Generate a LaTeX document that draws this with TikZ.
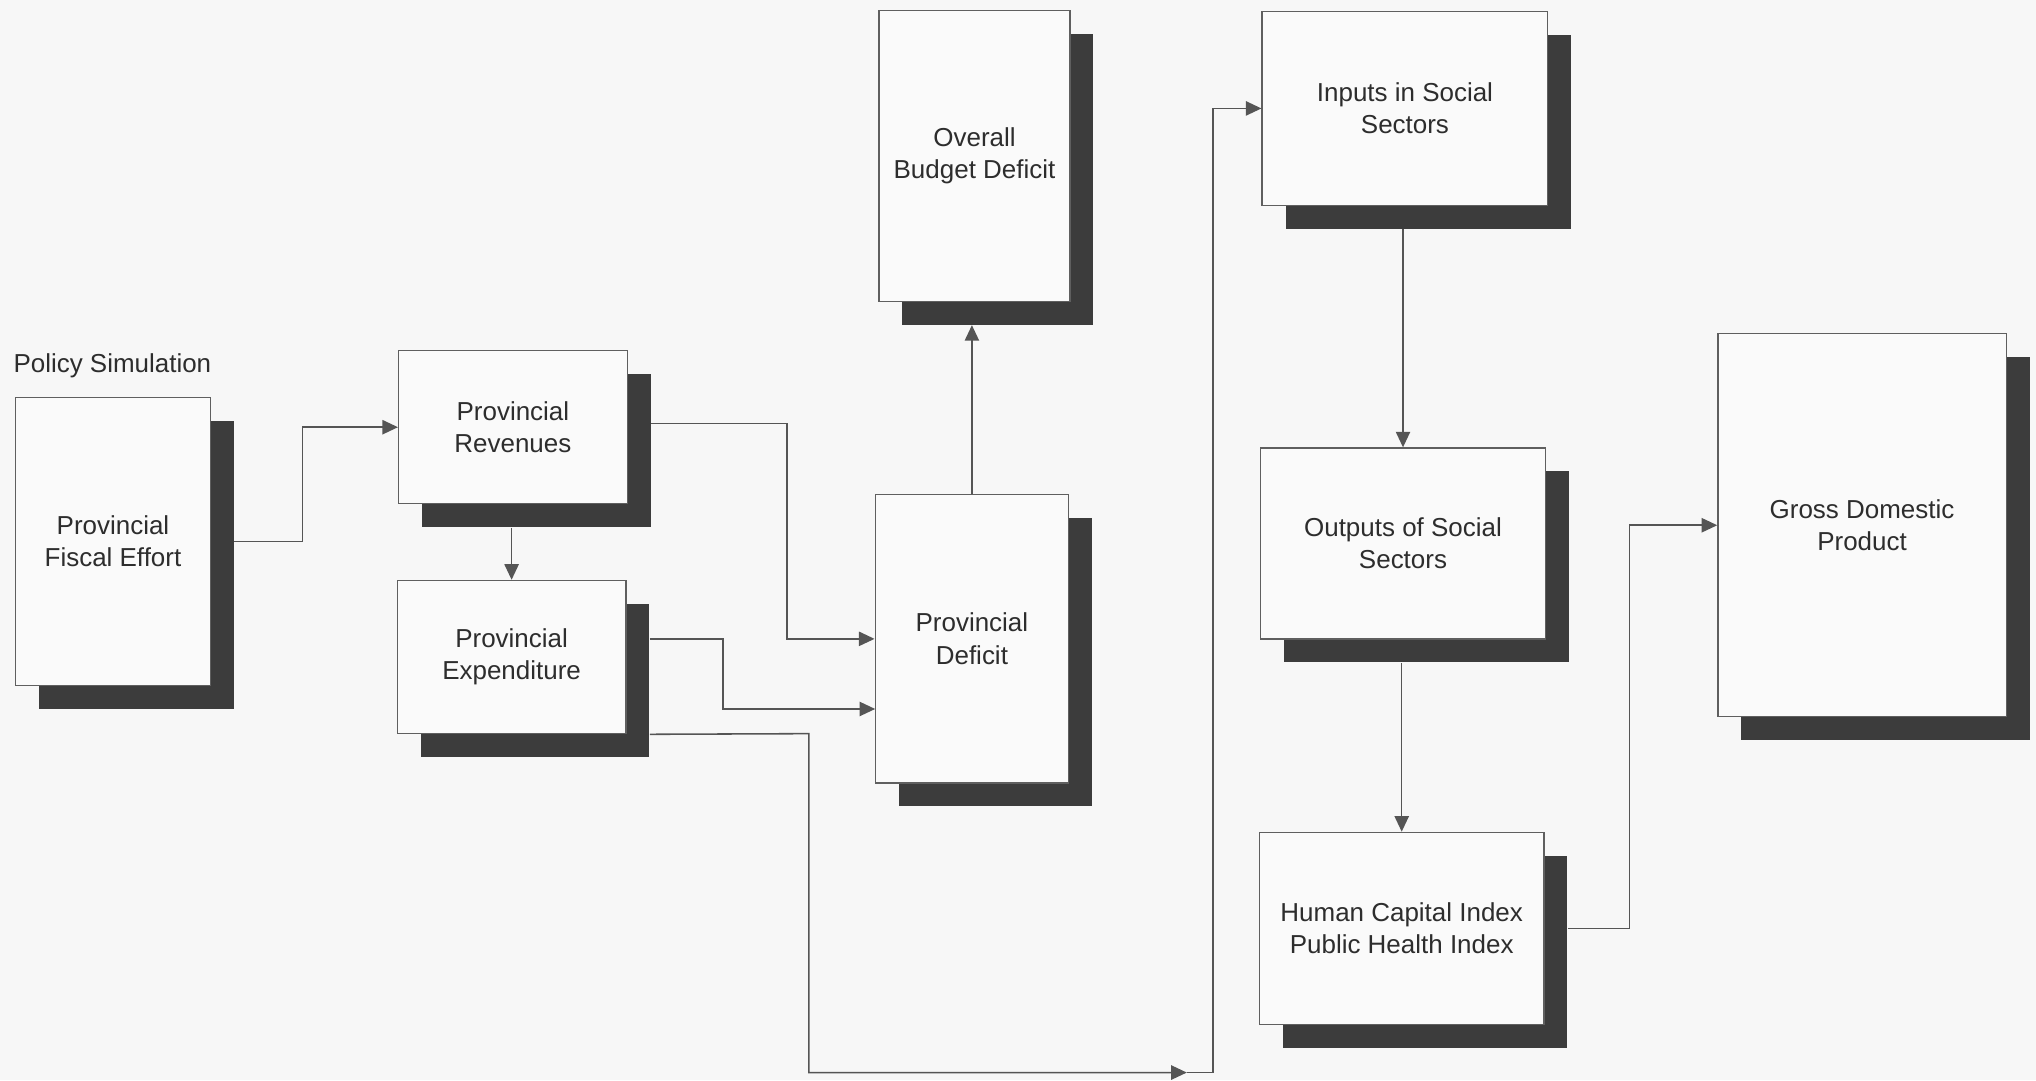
\documentclass[tikz,border=0pt]{standalone}
\usepackage{fontspec}
\setmainfont{Liberation Sans}
\usetikzlibrary{arrows.meta,calc}
\definecolor{bgc}{RGB}{247,247,247}
\definecolor{boxfill}{RGB}{250,250,250}
\definecolor{boxline}{RGB}{95,95,95}
\definecolor{shadowc}{RGB}{60,60,60}
\definecolor{linec}{RGB}{85,85,85}
\definecolor{textc}{RGB}{45,45,45}
\tikzset{
  shadowbox/.style={fill=shadowc, draw=none, inner sep=0pt},
  mainbox/.style={fill=boxfill, draw=boxline, line width=0.5pt, inner sep=0pt, align=center,
    text=textc, font=\fontsize{10}{12.5}\selectfont},
  conn/.style={draw=linec, line width=0.6pt},
  arr/.style={conn, -{Triangle[length=6pt,width=5.5pt]}},
}
\newcommand\mkbox[6]{%
  \node[shadowbox, minimum width=#4*0.5pt, minimum height=#5*0.5pt] (#1s) at ({#2+18},{#3+18}) {};
  \node[mainbox, minimum width=#4*0.5pt, minimum height=#5*0.5pt] (#1) at (#2,#3) {#6};
}
\begin{document}
\begin{tikzpicture}[x=0.5pt,y=-0.5pt]
\useasboundingbox (0,0) rectangle (1568,832);
\fill[bgc] (0,0) rectangle (1568,832);

\node[anchor=west, inner sep=0pt, text=textc, font=\fontsize{10}{12.5}\selectfont] (ps) at (10,282) {Policy Simulation};

\mkbox{fe}{87}{417}{150}{222}{Provincial\\Fiscal Effort}
\mkbox{rev}{395}{329}{176}{118}{Provincial\\Revenues}
\mkbox{exp}{394}{506}{176}{118}{Provincial\\Expenditure}
\mkbox{def}{748.5}{492}{149}{222}{Provincial\\Deficit}
\mkbox{obd}{750.5}{120}{147}{224}{Overall\\Budget Deficit}
\mkbox{inp}{1082}{83.5}{220}{149}{Inputs in Social\\Sectors}
\mkbox{out}{1080.5}{418.5}{219}{147}{Outputs of Social\\Sectors}
\mkbox{hci}{1079.5}{715}{219}{148}{Human Capital Index\\Public Health Index}
\mkbox{gdp}{1434}{404.5}{222}{295}{Gross Domestic\\Product}

% connectors
\draw[arr] (fes.east |- fe) -- (233,417) |- (rev.west);
\draw[arr] (exp.north |- revs.south) -- (exp.north);
\draw[arr] (revs.east |- 0,326) -- (606,326) |- (def.west);
\draw[arr] (exps.east |- def.west) -- (557,492) -- (557,546) -- (674,546);
\coordinate (bend) at (934,826);
\draw[arr] (exps.east |- exp.south) -- (623,565) -- (623,826) -- ([xshift=-10pt]bend);
\draw[arr] ([xshift=-10pt]bend) -- (bend) |- (inp.west);
\draw[arr] (def.north) -- (def.north |- obds.south);
\draw[arr] (out.north |- inps.south) -- (out.north);
\draw[arr] (hci.north |- outs.south) -- (hci.north);
\draw[arr] (hcis.east |- hci) -- (1255,715) |- (gdp.west);
\end{tikzpicture}
\end{document}
